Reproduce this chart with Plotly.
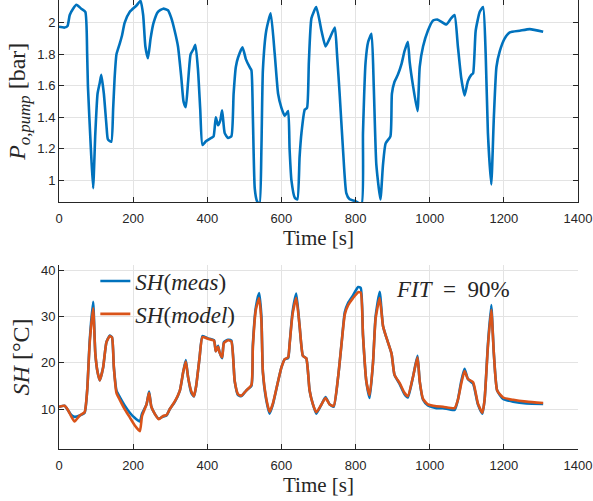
import plotly.graph_objects as go

# ---- top panel: pump outlet pressure ----
t_p = [0, 15, 23, 29, 38, 47, 60, 71, 76, 78, 86, 92, 98, 104, 110, 114, 121, 128, 132, 141,
       146, 150, 155, 164, 170, 177, 191, 209, 220, 227, 233, 240, 247, 255, 267, 281, 294, 303,
       312, 321, 330, 336, 342, 348, 355, 362, 368, 375, 381, 387, 397, 411, 417, 423, 429, 435,
       440, 447, 456, 465, 471, 477, 483, 495, 504, 514, 519, 523, 528, 534, 541, 546, 550, 559,
       571, 582, 591, 600, 609, 618, 622, 627, 636, 643, 649, 654, 663, 669, 674, 681, 694, 708,
       719, 730, 744, 750, 757, 766, 775, 784, 798, 816, 820, 827, 834, 843, 849, 856, 867, 874,
       881, 894, 898, 905, 914, 924, 932, 941, 946, 955, 967, 973, 982, 995, 1009, 1022, 1045,
       1058, 1067, 1076, 1085, 1094, 1103, 1112, 1117, 1124, 1135, 1144, 1151, 1157, 1166, 1173,
       1180, 1189, 1202, 1216, 1243, 1270, 1306]
p_pump = [1.975, 1.97, 1.98, 2.05, 2.09, 2.115, 2.09, 2.07, 1.8, 1.6, 1.2, 0.95, 1.3, 1.55, 1.62,
          1.67, 1.55, 1.35, 1.26, 1.245, 1.45, 1.65, 1.8, 1.87, 1.92, 2.0, 2.07, 2.11, 2.14, 2.05,
          1.85, 1.775, 1.9, 2.0, 2.07, 2.09, 2.08, 2.03, 1.95, 1.85, 1.65, 1.5, 1.465, 1.62, 1.8,
          1.83, 1.86, 1.7, 1.45, 1.225, 1.25, 1.27, 1.28, 1.40, 1.35, 1.38, 1.445, 1.3, 1.27, 1.28,
          1.55, 1.72, 1.78, 1.845, 1.77, 1.72, 1.70, 1.4, 0.95, 0.87, 0.85, 1.2, 1.7, 1.95, 2.06,
          1.8, 1.55, 1.46, 1.41, 1.44, 1.2, 1.0, 0.89, 0.88, 1.15, 1.3, 1.45, 1.46, 1.75, 2.03,
          2.1, 1.95, 1.85, 1.90, 1.97, 1.8, 1.55, 1.2, 0.92, 0.88, 0.87, 0.85, 1.3, 1.75, 1.88,
          1.93, 1.6, 1.1, 0.88, 1.1, 1.235, 1.28, 1.55, 1.626, 1.67, 1.74, 1.82, 1.88, 1.75, 1.6,
          1.44, 1.72, 1.85, 1.95, 2.015, 2.02, 1.99, 2.03, 2.05, 1.85, 1.65, 1.54, 1.63, 1.67,
          1.68, 1.95, 2.07, 2.1, 1.8, 1.3, 0.975, 1.4, 1.72, 1.82, 1.9, 1.94, 1.95, 1.96, 1.943]

# ---- bottom panel: superheat, measured vs model ----
t_sh = [0, 15, 24, 33, 42, 56, 69, 76, 83, 92, 98, 104, 110, 119, 128, 137, 143, 148, 155, 164,
        177, 191, 204, 218, 224, 236, 243, 249, 258, 269, 281, 290, 299, 312, 326, 335, 342, 348,
        357, 364, 370, 379, 387, 402, 418, 423, 429, 433, 440, 445, 456, 465, 474, 483, 492, 505,
        519, 523, 531, 540, 546, 550, 559, 568, 577, 591, 600, 609, 618, 622, 630, 640, 649, 658,
        667, 676, 685, 694, 708, 719, 730, 741, 753, 762, 771, 780, 793, 807, 814, 820, 829, 838,
        847, 854, 865, 874, 883, 897, 905, 919, 932, 941, 955, 967, 973, 982, 995, 1018, 1036,
        1067, 1076, 1085, 1094, 1103, 1117, 1130, 1142, 1148, 1157, 1166, 1173, 1182, 1198, 1225,
        1261, 1306]
sh_meas = [10.5, 10.7, 9.8, 8.7, 8.3, 8.6, 9.2, 14, 25, 33.2, 22, 18, 16.2, 19, 24.5, 25.9, 25.5,
           19, 14, 12.6, 10.8, 9.2, 8.1, 7.3, 9, 11, 13.8, 10.5, 9, 7.9, 8.4, 8.6, 10, 11.5, 14,
           18, 20.6, 17, 13.5, 12.7, 15, 21, 25.8, 25.3, 24.9, 22.5, 23.7, 22.3, 21, 24.5, 25,
           24.8, 16, 13, 12.8, 14, 15, 24, 32, 35.1, 30, 18, 12, 9, 11, 16, 19, 20.8, 21, 24, 31,
           35, 28, 21.5, 21, 14, 11, 9, 11, 12.6, 11, 10.5, 17, 24, 31, 33, 34.6, 36.4, 36.2, 26,
           16, 12.4, 20, 30, 35.4, 28, 25.5, 22, 17.4, 15.4, 13.2, 12.5, 17, 21.5, 16, 12, 10.8,
           10.2, 10.2, 9.8, 12, 16, 18.7, 16.5, 15.5, 11, 9, 12, 24, 32.5, 22, 14, 12.2, 11.6,
           11.2, 11.1]
sh_model = [10.5, 10.7, 9.8, 8.4, 7.3, 8.6, 9.3, 14, 24.5, 31.8, 22, 18, 16.2, 19, 24.5, 25.8,
            25.5, 19, 13.5, 12, 10, 8.2, 6.5, 5.2, 8.5, 11, 13.5, 10.5, 9, 7.8, 8.5, 8.7, 10,
            11.6, 14, 18, 20.3, 17, 13.8, 12.8, 15, 21, 25.6, 25.2, 24.8, 22.5, 23.5, 22.3, 21.2,
            24.3, 24.9, 24.6, 16, 13.2, 12.9, 14, 15.2, 23.5, 31.5, 34, 29, 18, 12.3, 9.4, 11.2,
            16, 19, 20.8, 21.2, 24, 30.5, 34, 28, 21.5, 21, 14, 11, 9.3, 11, 12.4, 11, 10.7, 17,
            24, 30.5, 32.5, 34, 35.3, 35.2, 26, 16, 13, 20, 29.5, 34, 28, 25.5, 22, 17.4, 15.6,
            13.5, 12.8, 17, 21.2, 16, 12.2, 11, 10.6, 10.5, 10.2, 12, 15.5, 18.2, 16.5, 15.8,
            11.2, 9.2, 12, 23.5, 31.5, 22, 14, 12.5, 12, 11.6, 11.3]

x_ticks = [0, 200, 400, 600, 800, 1000, 1200, 1400]
p_ticks = [1, 1.2, 1.4, 1.6, 1.8, 2]
sh_ticks = [10, 20, 30, 40]

BLUE = "#0072BD"
ORANGE = "#D95319"
AX = "#262626"
GRID = "#e3e3e3"
SERIF = "Liberation Serif"
SANS = "Liberation Sans"
LINE = dict(width=2.6, shape="spline", smoothing=0.5)

fig = go.Figure()
fig.add_trace(go.Scatter(x=t_p, y=p_pump, mode="lines", line=dict(color=BLUE, **LINE),
                         xaxis="x", yaxis="y", showlegend=False))
fig.add_trace(go.Scatter(x=t_sh, y=sh_meas, mode="lines", line=dict(color=BLUE, **LINE),
                         xaxis="x2", yaxis="y2", name="<i>SH</i>(<i>meas</i>)"))
fig.add_trace(go.Scatter(x=t_sh, y=sh_model, mode="lines", line=dict(color=ORANGE, **LINE),
                         xaxis="x2", yaxis="y2", name="<i>SH</i>(<i>model</i>)"))

common_x = dict(range=[0, 1400], tickvals=x_ticks, ticks="inside", ticklen=5, tickcolor=AX,
                showline=True, linecolor=AX, linewidth=1, showgrid=True, gridcolor=GRID,
                zeroline=False, automargin=False, ticklabelstandoff=4,
                tickfont=dict(family=SANS, size=13, color=AX),
                title=dict(text="Time [s]", font=dict(family=SERIF, size=21, color=AX), standoff=2))
common_y = dict(ticks="inside", ticklen=5, tickcolor=AX, showline=True, linecolor=AX, linewidth=1,
                showgrid=True, gridcolor=GRID, zeroline=False, automargin=False,
                tickfont=dict(family=SANS, size=13, color=AX))

fig.update_layout(
    width=593, height=501,
    margin=dict(l=59, r=15, t=0, b=52),
    paper_bgcolor="white", plot_bgcolor="white",
    xaxis=dict(domain=[0, 1], anchor="y", mirror="ticks", **common_x),
    yaxis=dict(domain=[0.549, 1.0], anchor="x", range=[0.86, 2.145], tickvals=p_ticks,
               mirror="ticks", **common_y,
               title=dict(text="<i>P</i><sub><i>o,pump</i></sub> [bar]",
                          font=dict(family=SERIF, size=24, color=AX), standoff=4)),
    xaxis2=dict(domain=[0, 1], anchor="y2", **common_x),
    yaxis2=dict(domain=[0, 0.41], anchor="x2", range=[1.35, 41.2], tickvals=sh_ticks, **common_y,
                title=dict(text="<i>SH</i> [°C]", font=dict(family=SERIF, size=24, color=AX),
                           standoff=4)),
    legend=dict(x=0.07, y=0.422, xanchor="left", yanchor="top", bgcolor="rgba(0,0,0,0)",
                font=dict(family=SERIF, size=23, color=AX), tracegroupgap=0),
    annotations=[dict(x=1062, y=35.8, xref="x2", yref="y2", showarrow=False,
                      text="<i>FIT</i>&nbsp;&nbsp;=&nbsp;&nbsp;90%",
                      font=dict(family=SERIF, size=23, color=AX))],
)

fig.write_html("out.html", config={"displayModeBar": False},
               post_script="document.body.style.margin='0';document.body.style.padding='0';")
